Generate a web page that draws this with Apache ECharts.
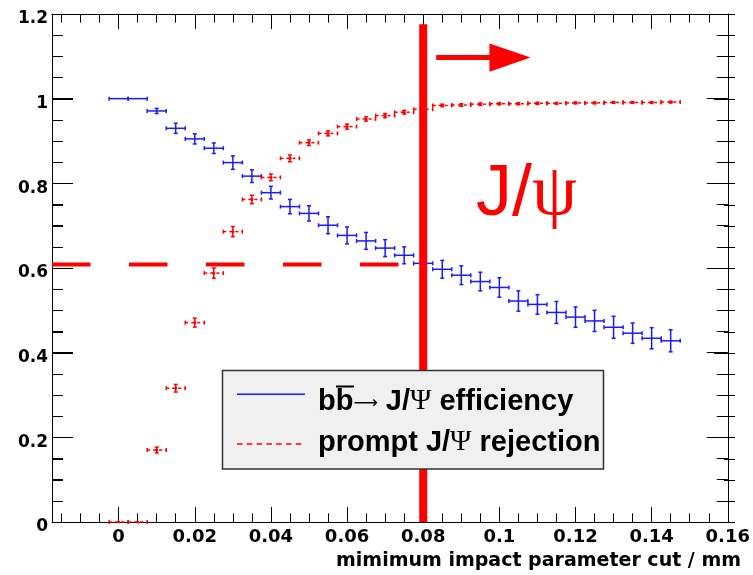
<!DOCTYPE html>
<html><head><meta charset="utf-8">
<script src="https://cdn.jsdelivr.net/npm/echarts@6/dist/echarts.min.js"></script>
<style>html,body{margin:0;padding:0;background:#fff}#c{width:753px;height:575px}</style>
</head><body><div id="c"></div>
<script>
// ---- data ----
const cutValues = [0, 0.005, 0.01, 0.015, 0.02, 0.025, 0.03, 0.035, 0.04, 0.045, 0.05, 0.055, 0.06, 0.065, 0.07, 0.075, 0.08, 0.085, 0.09, 0.095, 0.1, 0.105, 0.11, 0.115, 0.12, 0.125, 0.13, 0.135, 0.14, 0.145];
const binHalfWidth = 0.0025;
const efficiency = [1.0, 1.0, 0.971, 0.930, 0.905, 0.883, 0.849, 0.817, 0.778, 0.745, 0.729, 0.701, 0.677, 0.664, 0.647, 0.630, 0.611, 0.597, 0.583, 0.568, 0.554, 0.522, 0.514, 0.495, 0.484, 0.475, 0.460, 0.446, 0.434, 0.428];
const efficiencyErr = [0.001, 0.001, 0.006, 0.012, 0.012, 0.0125, 0.016, 0.015, 0.015, 0.017, 0.018, 0.02, 0.02, 0.02, 0.02, 0.02, 0.021, 0.021, 0.022, 0.022, 0.023, 0.024, 0.023, 0.026, 0.024, 0.025, 0.026, 0.024, 0.025, 0.026];
const rejection = [0, 0, 0.170, 0.316, 0.471, 0.588, 0.686, 0.762, 0.814, 0.859, 0.896, 0.918, 0.934, 0.952, 0.960, 0.968, 0.975, 0.984, 0.985, 0.987, 0.988, 0.988, 0.989, 0.989, 0.990, 0.990, 0.991, 0.991, 0.991, 0.992];
const rejectionErr = [0, 0, 0.007, 0.009, 0.0106, 0.012, 0.012, 0.010, 0.008, 0.008, 0.0067, 0.006, 0.006, 0.005, 0.005, 0.0045, 0.0045, 0.003, 0.003, 0.003, 0.0025, 0.0025, 0.0025, 0.002, 0.002, 0.002, 0.002, 0.002, 0.002, 0.002];
const xMajorTicks = [0, 0.02, 0.04, 0.06, 0.08, 0.1, 0.12, 0.14, 0.16];
const xMinorTicks = [-0.015, -0.01, -0.005, 0.005, 0.01, 0.015, 0.025, 0.03, 0.035, 0.045, 0.05, 0.055, 0.065, 0.07, 0.075, 0.085, 0.09, 0.095, 0.105, 0.11, 0.115, 0.125, 0.13, 0.135, 0.145, 0.15, 0.155];
const yMajorTicks = [0, 0.2, 0.4, 0.6, 0.8, 1, 1.2];
const yMinorTicks = [0.05, 0.1, 0.15, 0.25, 0.3, 0.35, 0.45, 0.5, 0.55, 0.65, 0.7, 0.75, 0.85, 0.9, 0.95, 1.05, 1.1, 1.15];
const xRange = [-0.0175, 0.16];
const yRange = [0, 1.2];
const seriesNames = ['b b\u0305\u2192 J/\u03A8 efficiency', 'prompt J/\u03A8 rejection'];
const xTitle = 'mimimum impact parameter cut / mm';
// annotations (data coordinates)
const cutX = 0.08;
const cutTop = 1.176;
const cutLevel = 0.608;
const arrowX = [0.0834, 0.0974, 0.1082]; // shaft start, head base, tip
const arrowY = [1.097, 0.0335];          // centre, head half-height

// ---- layout ----
const GRID = {left: 52, right: 18, top: 14, bottom: 53};
const W = 753;

// ---- chart ----
const chart = echarts.init(document.getElementById('c'), null, {renderer: 'canvas'});
const LAB = {fontFamily: 'DejaVu Sans', fontWeight: 'bold', color: '#000'};
const FRAME = {show: true, onZero: false, lineStyle: {color: '#000', width: 1}};

function errRenderer(color, dashed, marker) {
  return function (params, api) {
    const x = api.value(0), y = api.value(1), ey = api.value(2);
    const L = api.coord([x - binHalfWidth, y]);
    const R = api.coord([x + binHalfWidth, y]);
    const T = api.coord([x, y + ey]);
    const B = api.coord([x, y - ey]);
    const C = api.coord([x, y]);
    const cap = 2;
    const st = {stroke: color, lineWidth: 1.5, fill: null};
    const hs = dashed ? {stroke: color, lineWidth: 1.5, lineDash: [3, 3], fill: null} : st;
    const ch = [
      {type: 'line', shape: {x1: L[0], y1: L[1], x2: R[0], y2: R[1]}, style: hs},
      {type: 'line', shape: {x1: L[0], y1: L[1] - cap, x2: L[0], y2: L[1] + cap}, style: st},
      {type: 'line', shape: {x1: R[0], y1: R[1] - cap, x2: R[0], y2: R[1] + cap}, style: st}
    ];
    if (B[1] - T[1] > 1) {
      ch.push({type: 'line', shape: {x1: T[0], y1: T[1], x2: B[0], y2: B[1]}, style: st});
      ch.push({type: 'line', shape: {x1: T[0] - cap, y1: T[1], x2: T[0] + cap, y2: T[1]}, style: st});
      ch.push({type: 'line', shape: {x1: B[0] - cap, y1: B[1], x2: B[0] + cap, y2: B[1]}, style: st});
    }
    if (marker) ch.push({type: 'circle', shape: {cx: C[0], cy: C[1], r: 1.6}, style: {fill: color}});
    return {type: 'group', children: ch};
  };
}

function xAxisDef(pos, ticks, len, labels, line) {
  return {
    type: 'value', position: pos, min: xRange[0], max: xRange[1],
    axisLine: line ? FRAME : {show: false, onZero: false}, splitLine: {show: false},
    axisTick: {show: true, inside: true, length: len, customValues: ticks, lineStyle: {color: '#000', width: 1}},
    axisLabel: labels ? Object.assign({show: true, customValues: ticks, fontSize: 18, margin: 6, formatter: v => String(v)}, LAB) : {show: false}
  };
}
function yAxisDef(pos, labels) {
  return {
    type: 'value', position: pos, min: yRange[0], max: yRange[1], interval: 0.2,
    axisLine: FRAME, splitLine: {show: false},
    axisTick: {show: true, inside: true, length: 21, lineStyle: {color: '#000', width: 1}},
    minorTick: {show: true, splitNumber: 4, length: 11, lineStyle: {color: '#000', width: 1}},
    axisLabel: labels ? Object.assign({show: true, fontSize: 17, margin: 4,
      verticalAlign: 'top', lineHeight: 10, formatter: v => String(v)}, LAB) : {show: false}
  };
}

const option = {
  animation: false,
  grid: Object.assign({show: false}, GRID),
  xAxis: [
    xAxisDef('bottom', xMajorTicks, 15, true, true),
    xAxisDef('bottom', xMinorTicks, 8.7, false, false),
    xAxisDef('top', xMajorTicks, 15, false, true),
    xAxisDef('top', xMinorTicks, 8.7, false, false)
  ],
  yAxis: [yAxisDef('left', true), yAxisDef('right', false)],
  series: [
    {name: seriesNames[0], type: 'custom', xAxisIndex: 0, yAxisIndex: 0, silent: true,
     renderItem: errRenderer('#1a1aff', false, false),
     encode: {x: 0, y: 1},
     data: cutValues.map((x, i) => [x, efficiency[i], efficiencyErr[i]]), z: 3},
    {name: seriesNames[1], type: 'custom', xAxisIndex: 0, yAxisIndex: 0, silent: true,
     renderItem: errRenderer('#ff0000', true, true),
     encode: {x: 0, y: 1},
     data: cutValues.map((x, i) => [x, rejection[i], rejectionErr[i]]), z: 3},
    {name: 'cut', type: 'line', silent: true, symbol: 'none', z: 5, xAxisIndex: 0, yAxisIndex: 0,
     data: [[cutX, yRange[0]], [cutX, cutTop]],
     lineStyle: {color: '#ff0000', width: 8, cap: 'butt'}},
    {name: 'level', type: 'line', silent: true, symbol: 'none', z: 5, xAxisIndex: 0, yAxisIndex: 0,
     data: [[xRange[0], cutLevel], [cutX, cutLevel]],
     lineStyle: {color: '#ff0000', width: 4, type: [38.5, 38.5], dashOffset: 0, cap: 'butt'}}
  ]
};
chart.setOption(option);

const px = (x, y) => chart.convertToPixel({xAxisIndex: 0, yAxisIndex: 0}, [x, y]);
const a0 = px(arrowX[0], arrowY[0]), a1 = px(arrowX[1], arrowY[0]), a2 = px(arrowX[2], arrowY[0]);
const aTop = px(arrowX[1], arrowY[0] + arrowY[1]), aBot = px(arrowX[1], arrowY[0] - arrowY[1]);

// y ticks on both frame sides (drawn through the y scale, on the frame edges)
const frameL = GRID.left, frameR = W - GRID.right;
const yTickEls = [];
function addYTicks(values, len) {
  values.forEach(v => {
    const p = chart.convertToPixel({yAxisIndex: 0}, v);
    const yy = Array.isArray(p) ? p[1] : p;
    if (!isFinite(yy)) return;
    const y = Math.round(yy) + 0.5;
    yTickEls.push({type: 'line', z: 50, shape: {x1: frameL, y1: y, x2: frameL + len, y2: y}, style: {stroke: '#000', lineWidth: 1}});
    yTickEls.push({type: 'line', z: 50, shape: {x1: frameR, y1: y, x2: frameR - len, y2: y}, style: {stroke: '#000', lineWidth: 1}});
  });
}
addYTicks(yMajorTicks, 21);
addYTicks(yMinorTicks, 11);

const LEG = {fontFamily: 'Liberation Sans', fontWeight: 'bold', fontSize: 29, fill: '#000'};
const SER = {fontFamily: 'Liberation Serif', fontSize: 29, fill: '#000'};
const ARR = {fontFamily: 'DejaVu Sans', fontSize: 17, fill: '#000', padding: [4, 0, 0, 0]};
chart.setOption({
  graphic: [
    {type: 'group', z: 50, children: yTickEls},
    {type: 'rect', z: 10, shape: {x: a0[0], y: a0[1] - 2.5, width: a1[0] - a0[0] + 1, height: 5}, style: {fill: '#ff0000'}},
    {type: 'polygon', z: 10, shape: {points: [[a1[0], aTop[1]], [a2[0], a2[1]], [a1[0], aBot[1]]]}, style: {fill: '#ff0000'}},
    {type: 'text', z: 10, x: 476, y: 195, style: {
      text: '{s|J/}{g|\u03C8}', fill: '#ff0000', verticalAlign: 'middle', align: 'left',
      rich: {s: {fontFamily: 'Liberation Sans', fontSize: 72, fill: '#ff0000'},
             g: {fontFamily: 'Liberation Serif', fontSize: 72, fill: '#ff0000'}}}},
    {type: 'text', z: 10, x: 741, y: 561, style: {
      text: xTitle, fontFamily: 'DejaVu Sans', fontWeight: 'bold', fontSize: 19, fill: '#000', align: 'right', verticalAlign: 'middle'}},
    // legend
    {type: 'rect', z: 100, shape: {x: 222.5, y: 370.5, width: 381, height: 98.5}, style: {fill: '#f0f0f0', stroke: '#333', lineWidth: 1.5}},
    {type: 'line', z: 101, shape: {x1: 237, y1: 394.3, x2: 305, y2: 394.3}, style: {stroke: '#1a1aff', lineWidth: 1.5}},
    {type: 'line', z: 101, shape: {x1: 237, y1: 444, x2: 305, y2: 444}, style: {stroke: '#ff0000', lineWidth: 1.3, lineDash: [5.5, 4.3]}},
    {type: 'text', z: 101, x: 318, y: 401.5, style: {
      text: '{t|bb}{a|\u27F6}{t| J/}{g|\u03A8}{t| efficiency}', verticalAlign: 'middle', align: 'left',
      rich: {t: LEG, g: SER, a: ARR}}},
    {type: 'line', z: 101, shape: {x1: 336, y1: 386.5, x2: 354, y2: 386.5}, style: {stroke: '#000', lineWidth: 2}},
    {type: 'text', z: 101, x: 318, y: 442.5, style: {
      text: '{t|prompt J/}{g|\u03A8}{t| rejection}', verticalAlign: 'middle', align: 'left',
      rich: {t: LEG, g: SER}}}
  ]
});
</script>
</body></html>
